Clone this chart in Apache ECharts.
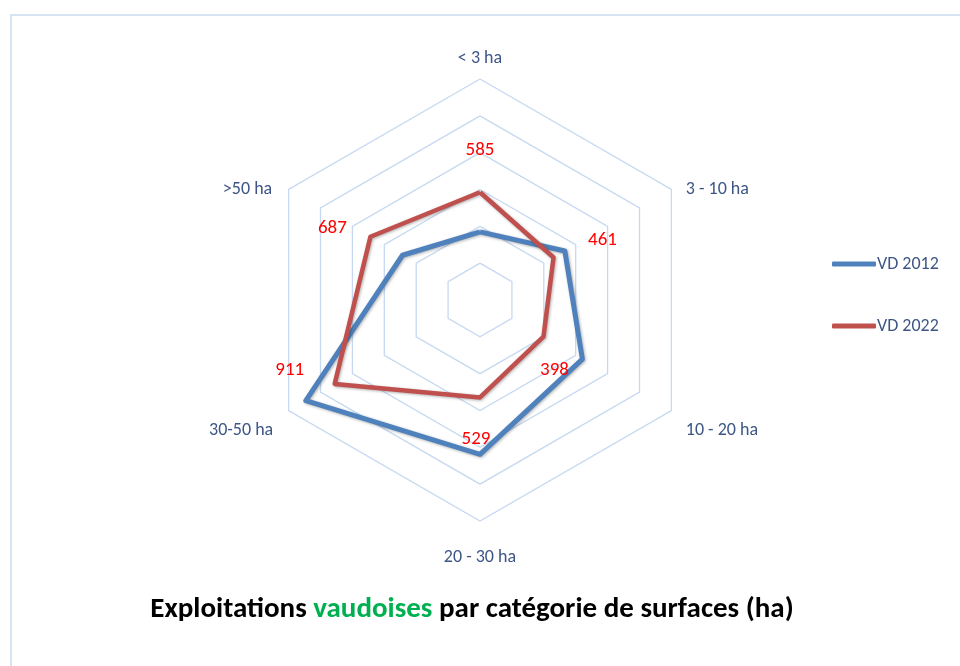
<!DOCTYPE html>
<html>
<head>
<meta charset="utf-8">
<script src="https://cdn.jsdelivr.net/npm/echarts@6/dist/echarts.min.js"></script>
<style>
html,body{margin:0;padding:0;background:#fff;}
#chart{width:960px;height:666px;}
</style>
</head>
<body>
<div id="chart"></div>
<script>
const categories = ['< 3 ha', '3 - 10 ha', '10 - 20 ha', '20 - 30 ha', '30-50 ha', '>50 ha'];
const vd2012 = [370, 532, 642, 838, 1092, 486];
const vd2022 = [585, 461, 398, 529, 911, 687];
const axisMax = 1200;
// label offsets for the VD 2022 value labels (per category)
const labelOffsets = [[0, -42], [49, -17], [11, 34], [-4, 42], [-45, -14], [-38, -8]];
// rich style key for each category name (fine placement)
const nameStyles = ['t', 'ur', 'lr', 'b', 'll', 'ul'];

// ECharts places radar indicators counter-clockwise; reorder so categories run clockwise
const order = [0, 5, 4, 3, 2, 1];
const pick = function (arr) { return order.map(function (k) { return arr[k]; }); };
const catsR = pick(categories), v12R = pick(vd2012), v22R = pick(vd2022), offR = pick(labelOffsets);

const chart = echarts.init(document.getElementById('chart'));
const font = 'Carlito, Lato, sans-serif';
const nameColor = '#3d5685';
const nameBase = {color: nameColor, fontSize: 18, fontFamily: font};

const labelSeries = catsR.map(function (c, i) {
  return {
    type: 'radar',
    name: 'lbl' + i,
    silent: true,
    z: 5,
    symbol: 'circle',
    symbolSize: 0.1,
    itemStyle: {color: '#c0504d'},
    lineStyle: {width: 0, opacity: 0},
    data: [{value: v22R, name: 'lbl' + i}],
    label: {
      show: true,
      position: 'inside',
      offset: offR[i],
      color: '#ff0000',
      fontSize: 19,
      fontFamily: font,
      formatter: function (p) { return p.dimensionIndex === i ? String(p.value) : ''; }
    }
  };
});

chart.setOption({
  animation: false,
  backgroundColor: '#ffffff',
  graphic: [{
    type: 'rect',
    shape: {x: 11, y: 15, width: 1000, height: 700},
    style: {fill: 'none', stroke: '#d6e3f3', lineWidth: 2},
    silent: true
  }],
  title: {
    text: '{a|Exploitations }{g|vaudoises}{a| par catégorie de surfaces (ha)}',
    left: 467,
    textAlign: 'center',
    top: 590,
    textStyle: {
      rich: {
        a: {fontSize: 29, fontWeight: 'bold', color: '#000000', fontFamily: font},
        g: {fontSize: 29, fontWeight: 'bold', color: '#00b050', fontFamily: font}
      }
    }
  },
  legend: {
    data: ['VD 2012', 'VD 2022'],
    orient: 'vertical',
    left: 827,
    top: 250,
    itemWidth: 44,
    itemHeight: 5,
    itemGap: 44,
    icon: 'roundRect',
    textStyle: {color: nameColor, fontSize: 18, fontFamily: font, padding: [0, 0, 0, -4]}
  },
  radar: {
    center: [480, 300],
    radius: 221,
    startAngle: 90,
    shape: 'polygon',
    splitNumber: 6,
    indicator: catsR.map(function (c) { return {name: c, max: axisMax, min: 0}; }),
    axisName: {
      color: nameColor, fontSize: 18, fontFamily: font,
      formatter: function (name) {
        const k = nameStyles[categories.indexOf(name)];
        return '{' + k + '|' + name + '}';
      },
      rich: {
        t: Object.assign({}, nameBase),
        b: Object.assign({padding: [15, 0, 0, 0]}, nameBase),
        ur: Object.assign({padding: [12, 0, 0, 4]}, nameBase),
        lr: Object.assign({padding: [28, 0, 0, 4]}, nameBase),
        ul: Object.assign({padding: [12, 6, 0, 0]}, nameBase),
        ll: Object.assign({padding: [28, 5, 0, 0]}, nameBase)
      }
    },
    nameGap: 12,
    axisLine: {show: false},
    axisTick: {show: false},
    axisLabel: {show: false},
    splitArea: {show: false},
    splitLine: {lineStyle: {color: '#c6d9f1', width: 1.3}}
  },
  series: [
    {
      type: 'radar',
      name: 'VD 2012',
      z: 3,
      symbol: 'none',
      itemStyle: {color: '#4f81bd'},
      lineStyle: {color: '#4f81bd', width: 5, shadowBlur: 3, shadowColor: 'rgba(0,0,0,0.3)', shadowOffsetX: 1, shadowOffsetY: 1},
      data: [{value: v12R, name: 'VD 2012'}]
    },
    {
      type: 'radar',
      name: 'VD 2022',
      z: 4,
      symbol: 'none',
      itemStyle: {color: '#c0504d'},
      lineStyle: {color: '#c0504d', width: 4.5, shadowBlur: 3, shadowColor: 'rgba(0,0,0,0.3)', shadowOffsetX: 1, shadowOffsetY: 1},
      data: [{value: v22R, name: 'VD 2022'}]
    }
  ].concat(labelSeries)
});
</script>
</body>
</html>
